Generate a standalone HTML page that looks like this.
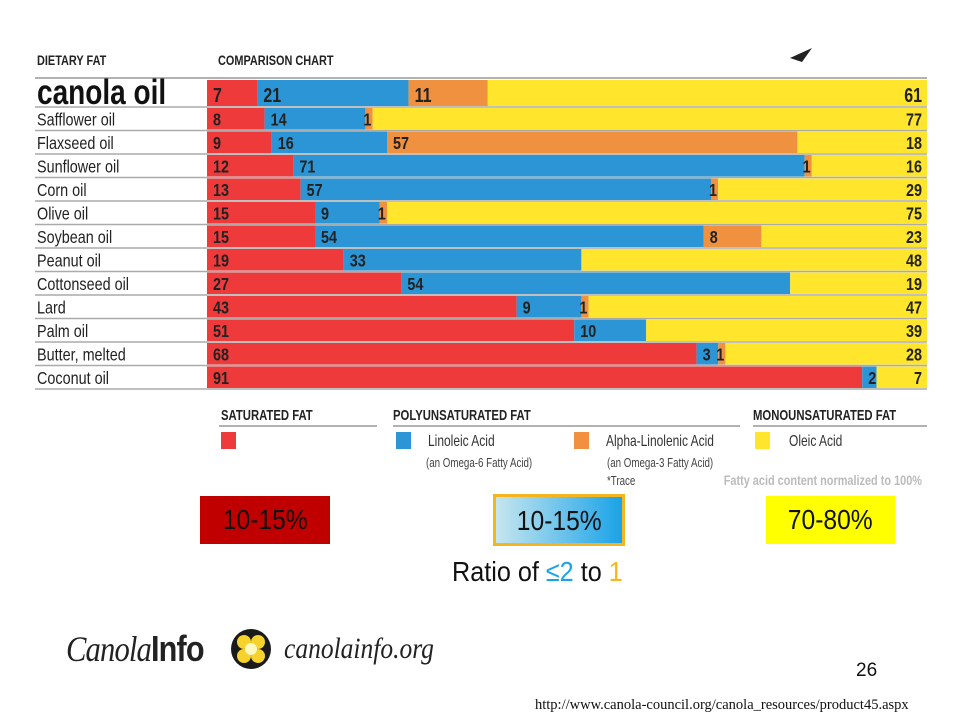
<!DOCTYPE html>
<html><head><meta charset="utf-8"><style>
body{margin:0;width:960px;height:720px;background:#fff;overflow:hidden;font-family:"Liberation Sans",sans-serif}
svg{position:absolute;left:0;top:0}
.box{position:absolute;font-size:28px;text-align:center;line-height:48px;color:#111;transform-origin:center}
</style></head><body>
<svg id="chart" width="960" height="500"></svg>

<div class="box" style="left:200px;top:496px;width:130px;height:48px;background:#c00000"><span style="display:inline-block;transform:scaleX(0.88)">10-15%</span></div>
<div class="box" style="left:493px;top:494px;width:126px;height:46px;border:3px solid #f5b520;background:linear-gradient(90deg,#c6e6ef,#1aa3e8)"><span style="display:inline-block;transform:scaleX(0.88)">10-15%</span></div>
<div class="box" style="left:766px;top:496px;width:129px;height:48px;background:#ffff00"><span style="display:inline-block;transform:scaleX(0.88)">70-80%</span></div>
<div style="position:absolute;left:452px;top:556px;font-size:28px;color:#111;transform:scaleX(0.9);transform-origin:left">Ratio of <span style="color:#1aa3e8">≤2</span> to <span style="color:#f5b520">1</span></div>

<div style="position:absolute;left:66px;top:624px;height:50px;width:380px">
<span style="position:absolute;left:0;top:4px;font-family:'Liberation Serif',serif;font-style:italic;font-size:36px;color:#222;transform:scaleX(0.85);transform-origin:left;letter-spacing:-1px">Canola<b style="font-family:'Liberation Sans',sans-serif;font-style:normal">Info</b></span>
<svg style="left:164px;top:4px" width="42" height="42" viewBox="0 0 42 42"><circle cx="21" cy="21" r="20" fill="#1a1a1a"/><circle cx="14" cy="14" r="7" fill="#f7d22c"/><circle cx="28" cy="14" r="7" fill="#f7d22c"/><circle cx="14" cy="28" r="7" fill="#f7d22c"/><circle cx="28" cy="28" r="7" fill="#f7d22c"/><circle cx="21" cy="21" r="6" fill="#fff8c0"/></svg>
<span style="position:absolute;left:218px;top:8px;font-family:'Liberation Serif',serif;font-style:italic;font-size:30px;color:#222;transform:scaleX(0.85);transform-origin:left">canolainfo.org</span>
</div>
<div style="position:absolute;left:856px;top:660px;font-size:19px;color:#111">26</div>
<div style="position:absolute;left:535px;top:697px;font-family:'Liberation Serif',serif;font-size:14.5px;color:#111">http://www.canola-council.org/canola_resources/product45.aspx</div>

<script>
const oils=["canola oil","Safflower oil","Flaxseed oil","Sunflower oil","Corn oil","Olive oil","Soybean oil","Peanut oil","Cottonseed oil","Lard","Palm oil","Butter, melted","Coconut oil"];
const saturated=[7,8,9,12,13,15,15,19,27,43,51,68,91];
const linoleic=[21,14,16,71,57,9,54,33,54,9,10,3,2];
const alpha=[11,1,57,1,1,1,8,0,0,1,0,1,0];
const alphaLabels=["11","1","57","1","1","1","8","*","*","1","*","1",""];
const oleic=[61,77,18,16,29,75,23,48,19,47,39,28,7];
const colors=["#ee3a3a","#2b95d6","#f0913f","#ffe52b"];
const NS="http://www.w3.org/2000/svg";
const svg=document.getElementById('chart');
const X0=207,X1=927;
function xs(v){return X0+(X1-X0)*v/100;}
function rowY(i){return i===0?80:108+(i-1)*23.5;}
function rowH(i){return i===0?26:21.5;}
function mk(tag,attrs,parent){const e=document.createElementNS(NS,tag);for(const k in attrs)e.setAttribute(k,attrs[k]);(parent||svg).appendChild(e);return e;}
function txt(x,y,s,size,anchor,weight,fill,sx){const t=mk('text',{x:0,y:0,'font-size':size,'font-weight':weight||'bold','text-anchor':anchor||'start',fill:fill||'#222',transform:`translate(${x},${y}) scale(${sx||0.78},1)`});t.textContent=s;return t;}
let h=txt(37,65,"DIETARY FAT",14);
h=txt(218,65,"COMPARISON CHART",14);
mk('line',{x1:35,x2:927,y1:78,y2:78,stroke:'#999','stroke-width':1.5});
oils.forEach((o,i)=>{
  const y=rowY(i),hh=rowH(i);
  const g=mk('g',{});
  
  
  const lab=i===0?txt(37,y+hh-2,o,35,'start','bold','#111',0.8):txt(37,y+hh-4,o,18,'start','normal','#222',0.8);
  g.appendChild(lab);
  const vals=[saturated[i],linoleic[i],alpha[i],oleic[i]];
  const labels=[String(saturated[i]),String(linoleic[i]),alphaLabels[i],String(oleic[i])];
  let acc=0;
  vals.forEach((v,k)=>{
    const r=mk('rect',{x:xs(acc),y:y,width:Math.max(0,xs(acc+v)-xs(acc)),height:hh,fill:colors[k]},g);
    
    
    if(labels[k]){
      const star=labels[k]==="*";
      const tx=k===3?X1-5:xs(acc)+(star?2:(k===2&&v<=1?-2:6));
      const t=txt(tx,star?y+hh+2:y+hh-4,labels[k],star?24:(i===0?20:18),k===3?'end':'start','bold','#222',0.8);
      g.appendChild(t);
    }
    acc+=v;
  });
  mk('line',{x1:35,x2:927,y1:y+hh+1,y2:y+hh+1,stroke:'#aaa','stroke-width':1.5});
});
const lg=mk('g',{});
lg.appendChild(txt(221,420,"SATURATED FAT",14.5));
lg.appendChild(txt(393,420,"POLYUNSATURATED FAT",14.5));
lg.appendChild(txt(753,420,"MONOUNSATURATED FAT",14.5));
mk('line',{x1:219,x2:377,y1:426,y2:426,stroke:'#999','stroke-width':1.5},lg);
mk('line',{x1:393,x2:740,y1:426,y2:426,stroke:'#999','stroke-width':1.5},lg);
mk('line',{x1:753,x2:927,y1:426,y2:426,stroke:'#999','stroke-width':1.5},lg);
[[221,colors[0]],[396,colors[1]],[574,colors[2]],[755,colors[3]]].forEach(([x,c])=>mk('rect',{x:x,y:432,width:15,height:17,fill:c},lg));
lg.appendChild(txt(428,446,"Linoleic Acid",16,'start','normal','#333',0.75));
lg.appendChild(txt(426,467,"(an Omega-6 Fatty Acid)",13,'start','normal','#444',0.75));
lg.appendChild(txt(606,446,"Alpha-Linolenic Acid",16,'start','normal','#333',0.75));
lg.appendChild(txt(607,467,"(an Omega-3 Fatty Acid)",13,'start','normal','#444',0.75));
lg.appendChild(txt(607,485,"*Trace",13,'start','normal','#444',0.75));
lg.appendChild(txt(922,485,"Fatty acid content normalized to 100%",14,'end','bold','#bbb',0.78));
lg.appendChild(txt(789,446,"Oleic Acid",16,'start','normal','#333',0.75));
mk('path',{d:"M790 58 L812 48 L802 62 Z",fill:'#222'});
</script>
</body></html>
